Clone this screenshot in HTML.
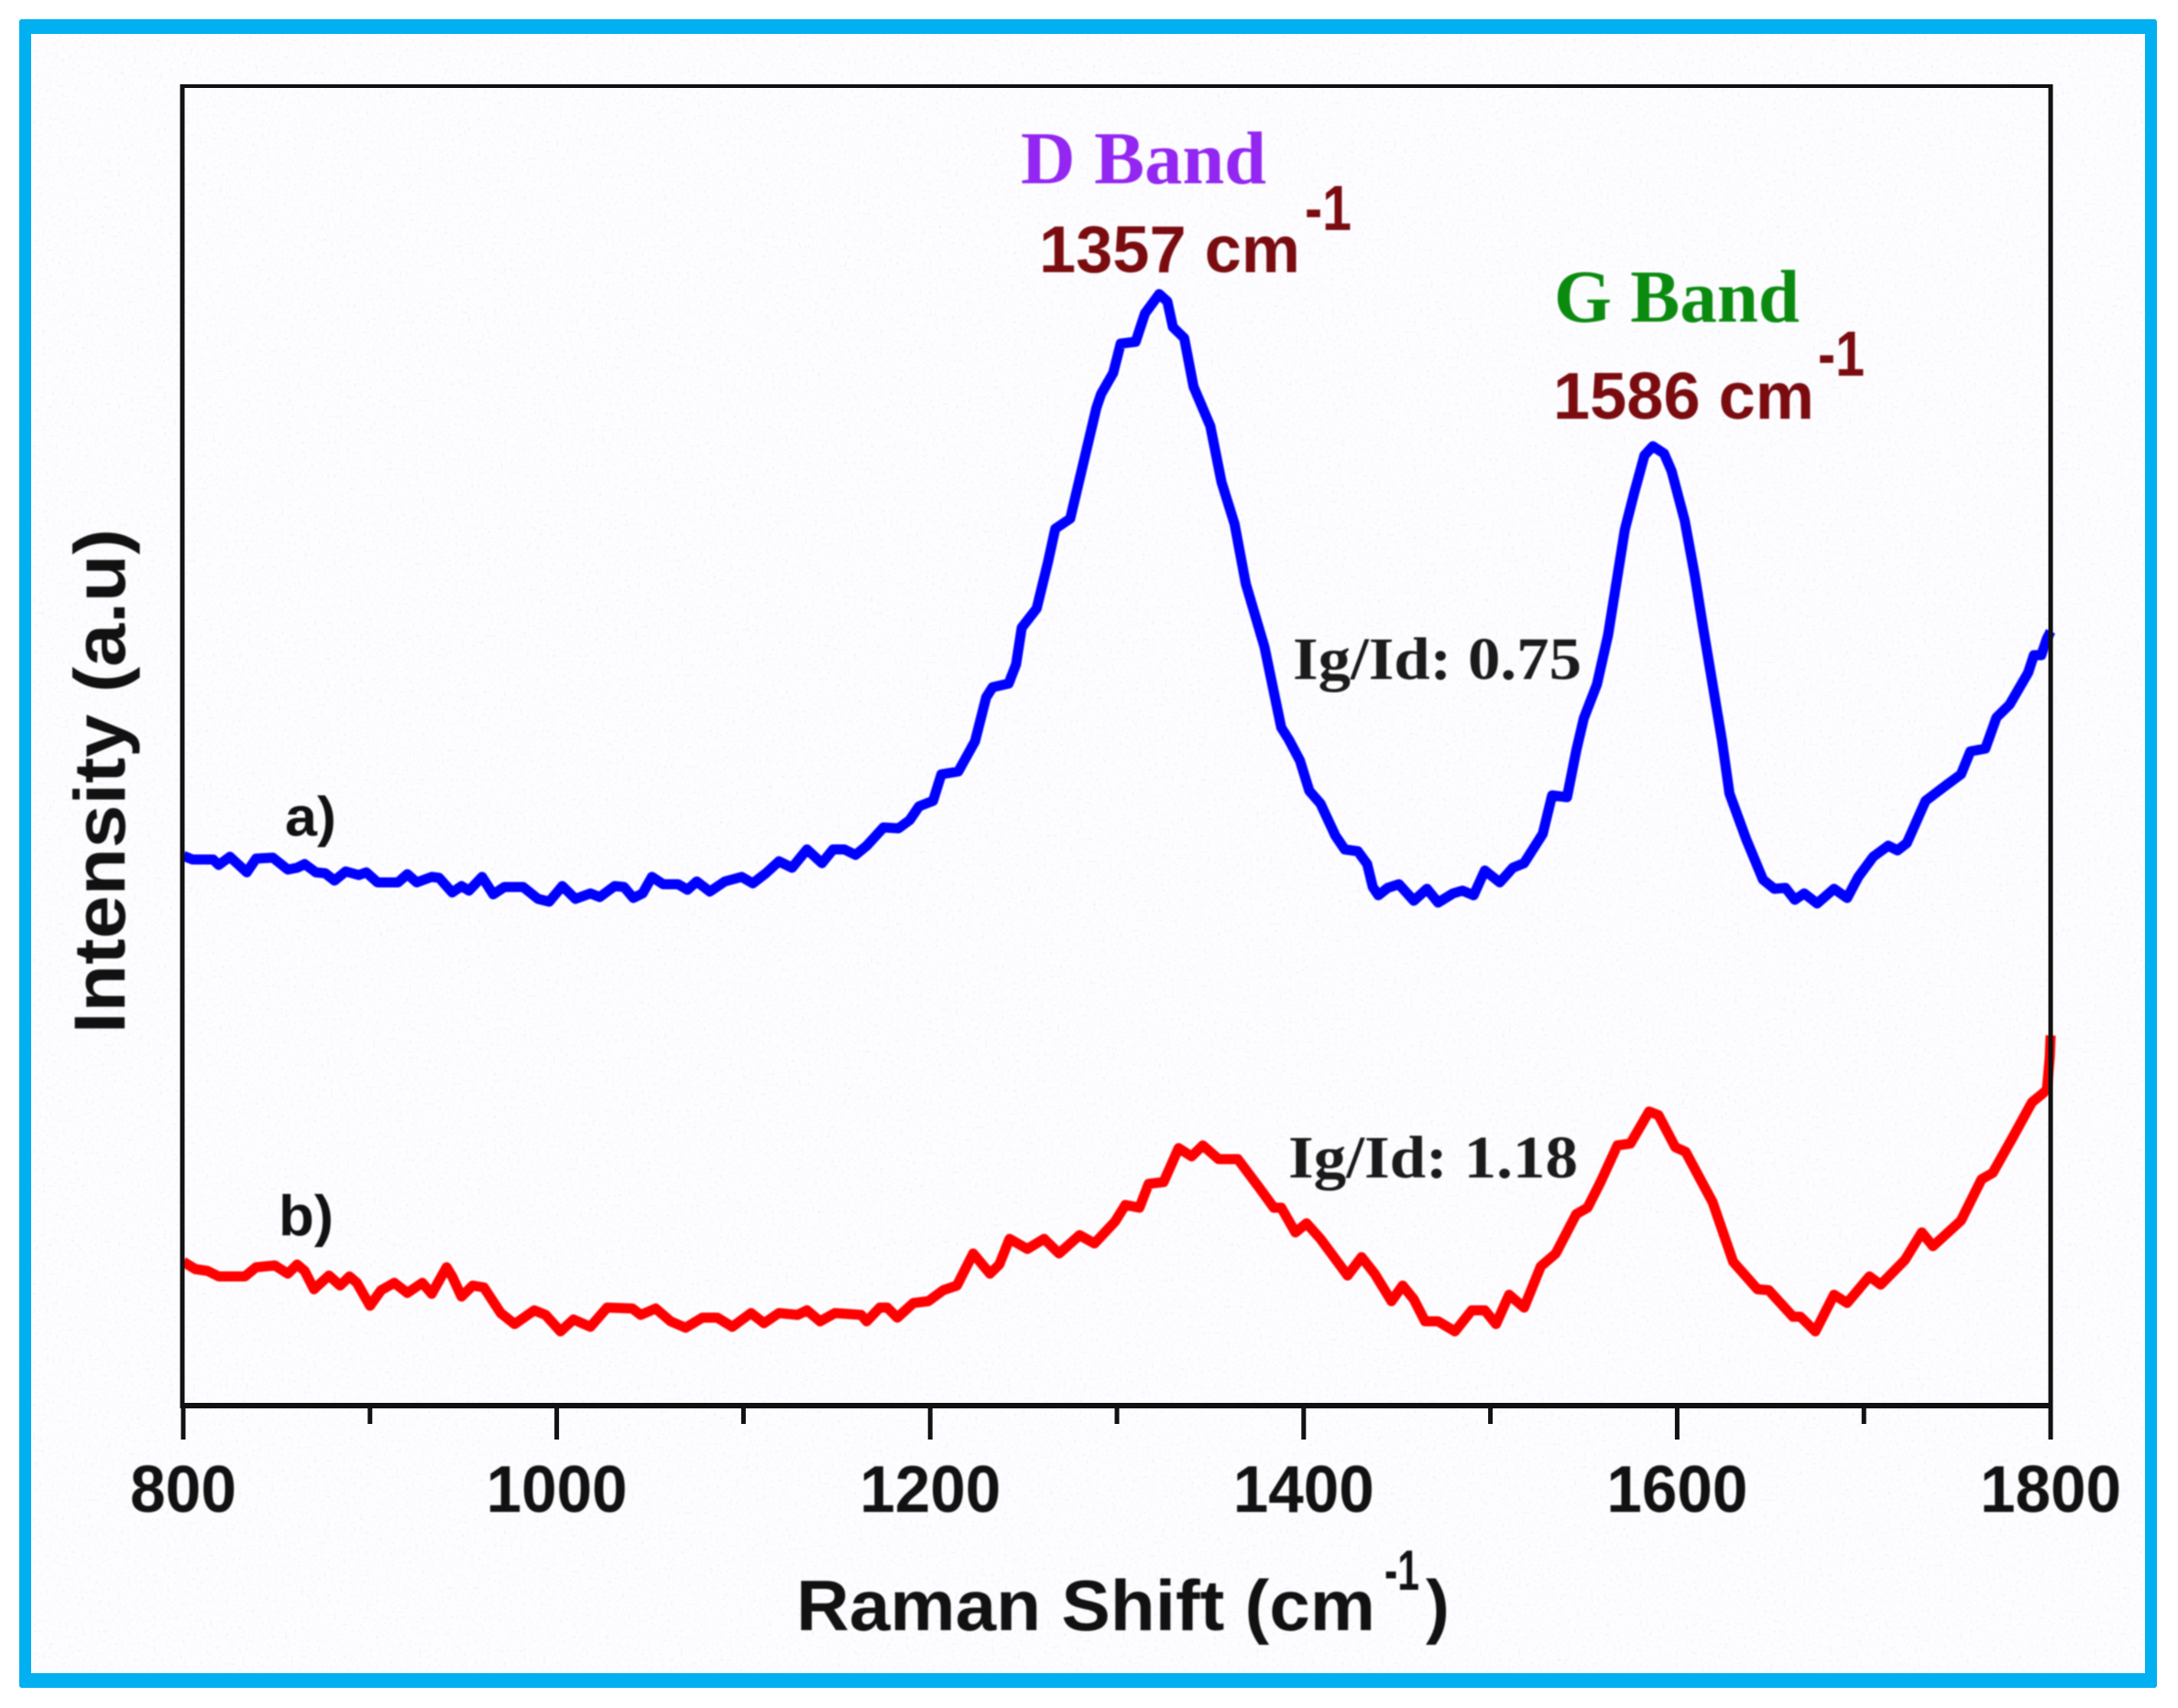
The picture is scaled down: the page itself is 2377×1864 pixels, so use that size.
<!DOCTYPE html>
<html lang="en">
<head>
<meta charset="utf-8">
<title>Raman spectra</title>
<style>
html,body{margin:0;padding:0;background:#fff;}
body{width:2377px;height:1864px;overflow:hidden;}
svg{display:block;}
text{font-family:"Liberation Sans",sans-serif;filter:blur(0.7px);}
.serif{font-family:"Liberation Serif",serif;}
#marks path{filter:blur(0.8px);}
</style>
</head>
<body>
<svg id="chart" xmlns="http://www.w3.org/2000/svg" width="2377" height="1864" viewBox="0 0 2377 1864">
  <defs>
    <filter id="speckle" x="0" y="0" width="100%" height="100%">
      <feTurbulence type="fractalNoise" baseFrequency="0.28" numOctaves="2" seed="4"/>
      <feColorMatrix type="matrix" values="0 0 0 0 0.72  0 0 0 0 0.72  0 0 0 0 0.95  4 0 0 0 -2.3"/>
    </filter>
  </defs>
  <rect x="0" y="0" width="2377" height="1864" fill="#ffffff"/>
  <rect x="27" y="29" width="2320" height="1805" fill="#fdfdff"/>
  <rect x="33" y="37" width="2308" height="1789" filter="url(#speckle)" opacity="0.3"/>
  <rect x="21" y="21" width="13" height="1821" rx="3" fill="#00b0f0"/>
  <rect x="21" y="21" width="2333" height="16" rx="3" fill="#00b0f0"/>
  <rect x="2341" y="21" width="13" height="1821" rx="3" fill="#00b0f0"/>
  <rect x="21" y="1826" width="2333" height="16" rx="3" fill="#00b0f0"/>

  <g id="marks"></g>

  <line x1="197" y1="94" x2="2240" y2="94" stroke="#111" stroke-width="4"/>
  <line x1="199" y1="92" x2="199" y2="1537" stroke="#111" stroke-width="5"/>
  <line x1="2238" y1="92" x2="2238" y2="1537" stroke="#111" stroke-width="5"/>
  <line x1="197" y1="1534" x2="2240" y2="1534" stroke="#111" stroke-width="6"/>

  <g id="ticks"></g>

  <text x="869" y="1779" font-size="78" font-weight="bold" textLength="632" lengthAdjust="spacingAndGlyphs" fill="#111">Raman Shift (cm</text>
  <text x="1511" y="1735" font-size="62" font-weight="bold" textLength="38" lengthAdjust="spacingAndGlyphs" fill="#111">-1</text>
  <text x="1556" y="1779" font-size="78" font-weight="bold" fill="#111">)</text>
  <text transform="translate(136,1128) rotate(-90)" font-size="79" font-weight="bold" textLength="551" lengthAdjust="spacingAndGlyphs" fill="#111">Intensity (a.u)</text>

  <text class="serif" x="1114" y="200" font-size="82" font-weight="bold" textLength="268" lengthAdjust="spacingAndGlyphs" fill="#9326f0">D Band</text>
  <text x="1134" y="297" font-size="72" font-weight="bold" textLength="285" lengthAdjust="spacingAndGlyphs" fill="#7a0c10">1357 cm</text>
  <text x="1424" y="251" font-size="70" font-weight="bold" textLength="51" lengthAdjust="spacingAndGlyphs" fill="#7a0c10">-1</text>
  <text class="serif" x="1696" y="351" font-size="82" font-weight="bold" textLength="268" lengthAdjust="spacingAndGlyphs" fill="#0b8a10">G Band</text>
  <text x="1695" y="457" font-size="72" font-weight="bold" textLength="285" lengthAdjust="spacingAndGlyphs" fill="#7a0c10">1586 cm</text>
  <text x="1984" y="410" font-size="70" font-weight="bold" textLength="51" lengthAdjust="spacingAndGlyphs" fill="#7a0c10">-1</text>
  <text class="serif" x="1411" y="741" font-size="66" font-weight="bold" textLength="315" lengthAdjust="spacingAndGlyphs" fill="#1a1a1a">Ig/Id: 0.75</text>
  <text class="serif" x="1406" y="1285" font-size="66" font-weight="bold" textLength="316" lengthAdjust="spacingAndGlyphs" fill="#1a1a1a">Ig/Id: 1.18</text>
  <text x="311" y="912" font-size="60" font-weight="bold" textLength="56" lengthAdjust="spacingAndGlyphs" fill="#111">a)</text>
  <text x="304" y="1348" font-size="62" font-weight="bold" textLength="60" lengthAdjust="spacingAndGlyphs" fill="#111">b)</text>
</svg>
<script>
var blueShift = [800,805,816,819,825,834,839,848,856,861,865,871,876,881,887,894,898,904,915,920,925,933,937,944,949,953,960,966,972,982,990,996,1003,1010,1018,1023,1031,1036,1041,1046,1051,1057,1065,1070,1075,1082,1090,1099,1105,1112,1119,1126,1134,1142,1148,1154,1160,1166,1175,1183,1189,1194,1201.5,1206,1215,1224,1230,1233.4,1242,1246,1249,1257,1263,1267,1275,1281,1289,1291.5,1298,1302,1310,1315,1322.6,1327,1330,1336,1341,1350,1356,1363,1369,1379,1388,1392,1398,1403,1409,1417,1422,1429,1434,1437,1440,1445,1451,1459,1466,1472,1480,1485,1491,1497,1505,1512,1518,1528,1533,1541,1546,1550,1557,1563,1568,1572,1577,1582.5,1587,1593,1597,1604,1609.5,1614,1619,1624,1628,1637,1646,1652,1658,1663,1668,1675,1684,1691,1697,1705,1713,1718,1723,1733,1744,1752,1757,1765,1771,1778,1788,1791,1795,1798,1800];
var blueIntensity = [600,596,596,590,599,582,597,598,585,587,591,582,581,573,583,579,582,571,571,580,571,577,576,560,567,562,577,558,566,566,553,550,567,553,559,555,567,566,554,559,577,569,569,563,572,561,572,577,570,581,594,587,607,592,607,607,601,611,631,630,639,654,660,689,692,725,773,784,788,809,849,870,920,957,968,1020,1089,1104,1127,1159,1161,1192,1213,1205,1177,1165,1112,1069,1008,962,897,828,740,727,704,671,657,622,607,605,591,566,557,565,569,551,564,549,559,562,557,584,571,587,592,624,666,664,715,750,787,841,905,956,996,1037,1047,1039,1020,966,905,848,787,726,668,618,574,564,565,552,559,548,564,554,577,599,611,606,614,660,677,689,714,717,751,765,800,819,819,837,845];
var redShift = [800,806.5,813,819,833,839,849,856,861,865,870,878,884,889,893,900,906,913,920,928,933,941,944,949,955,961,970,977.5,988,994,1002,1009,1018,1027,1040.5,1045,1053,1061,1069,1078,1086,1094,1104,1111,1119,1129,1134,1141,1149,1163,1166,1173,1177,1182.4,1191,1199,1207,1214.3,1223,1232,1237,1242.5,1252,1261,1269,1280,1288,1299,1304.5,1312,1317,1325,1333,1340,1346,1354.4,1364.7,1376.5,1384,1388,1395.6,1401.5,1409,1423.5,1431,1438,1447,1453,1459,1465,1472,1481,1490,1497,1503,1510,1518,1527,1535,1546,1552,1559,1568,1575,1585,1590,1599,1604.5,1619,1630,1643,1649,1662,1666,1674,1684,1691,1703,1709,1722,1731,1737,1752,1763,1769,1779.5,1790,1796,1798,1799.5,1800];
var redIntensity = [157,149,147,141,141,151,153,144,154,147,127,142,131,141,134,109,126,134,123,134,122,151,141,119,131,129,101,89,104,99,81,94,86,107,106,99,106,92,85,96,96,86,101,90,101,99,104,92,101,99,92,107,107,96,112,114,126,131,166,144,154,182,171,182,166,186,177,201,219,216,242,244,281,272,284,269,269,237,216,216,189,199,182,142,162,144,114,131,116,92,92,81,104,104,89,121,107,152,166,209,216,244,284,286,321,317,282,277,222,157,127,126,97,97,81,121,112,141,132,159,189,174,202,247,254,292,331,341,345,380,404];
var xTickValues = [800,900,1000,1100,1200,1300,1400,1500,1600,1700,1800];
var xTickLabels = ["800","","1000","","1200","","1400","","1600","","1800"];

var svgNS = "http://www.w3.org/2000/svg";
function xScale(v){ return 200 + (v - 800) * 2.038; }
function yScale(v){ return 1534 - v; }

function linePath(xs, ys){
  var d = "";
  for (var i = 0; i < xs.length; i++) {
    d += (i ? "L" : "M") + xScale(xs[i]).toFixed(1) + " " + yScale(ys[i]).toFixed(1);
  }
  return d;
}

var marks = document.getElementById("marks");

var bluePath = document.createElementNS(svgNS, "path");
bluePath.setAttribute("d", linePath(blueShift, blueIntensity));
bluePath.setAttribute("fill", "none");
bluePath.setAttribute("stroke", "#0000ff");
bluePath.setAttribute("stroke-width", "11");
bluePath.setAttribute("stroke-linejoin", "round");


marks.appendChild(bluePath);

var redPath = document.createElementNS(svgNS, "path");
redPath.setAttribute("d", linePath(redShift, redIntensity));
redPath.setAttribute("fill", "none");
redPath.setAttribute("stroke", "#ff0000");
redPath.setAttribute("stroke-width", "11");
redPath.setAttribute("stroke-linejoin", "round");


marks.appendChild(redPath);

var ticks = document.getElementById("ticks");
xTickValues.forEach(function(v, i){
  var label = xTickLabels[i];
  var tick = document.createElementNS(svgNS, "line");
  tick.setAttribute("x1", xScale(v));
  tick.setAttribute("x2", xScale(v));
  tick.setAttribute("y1", 1534);
  tick.setAttribute("y2", label ? 1571 : 1554);
  tick.setAttribute("stroke", "#111");
  tick.setAttribute("stroke-width", "5");
  
  
  ticks.appendChild(tick);
  if (label) {
    var t = document.createElementNS(svgNS, "text");
    t.textContent = label;
    t.setAttribute("x", xScale(v));
    t.setAttribute("y", 1650);
    t.setAttribute("text-anchor", "middle");
    t.setAttribute("font-size", "72");
    t.setAttribute("font-weight", "bold");
    t.setAttribute("fill", "#111");
    t.setAttribute("textLength", (label.length * 38.5).toFixed(0));
    t.setAttribute("lengthAdjust", "spacingAndGlyphs");
    
    
    ticks.appendChild(t);
  }
});
</script>
</body>
</html>
